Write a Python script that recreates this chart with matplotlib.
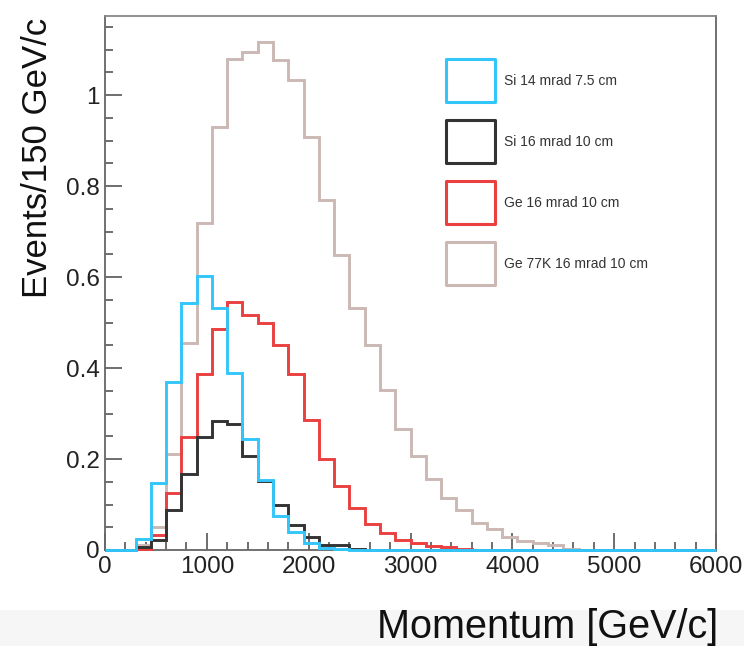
import numpy as np
import matplotlib
matplotlib.use("Agg")
import matplotlib.pyplot as plt
from matplotlib.patches import Rectangle
from matplotlib.ticker import MultipleLocator, FormatStrFormatter

plt.rcParams["font.family"] = ["Liberation Sans", "DejaVu Sans"]

# 40 bins of 150 GeV/c from 0 to 6000
edges = np.arange(0, 6001, 150)

si14 = [0, 0, 0.025, 0.147, 0.370, 0.542, 0.602, 0.531, 0.390, 0.243,
        0.154, 0.075, 0.040, 0.015, 0.005, 0.002, 0, 0, 0, 0,
        0, 0, 0, 0, 0, 0, 0, 0, 0, 0,
        0, 0, 0, 0, 0, 0, 0, 0, 0, 0]
si16 = [0, 0, 0.006, 0.022, 0.088, 0.168, 0.249, 0.284, 0.276, 0.207,
        0.152, 0.099, 0.055, 0.029, 0.012, 0.010, 0.003, 0, 0, 0,
        0, 0, 0, 0, 0, 0, 0, 0, 0, 0,
        0, 0, 0, 0, 0, 0, 0, 0, 0, 0]
ge16 = [0, 0, 0.003, 0.033, 0.125, 0.249, 0.388, 0.485, 0.546, 0.516,
        0.500, 0.451, 0.388, 0.286, 0.199, 0.141, 0.092, 0.057, 0.037, 0.023,
        0.015, 0.009, 0.006, 0.002, 0, 0, 0, 0, 0, 0,
        0, 0, 0, 0, 0, 0, 0, 0, 0, 0]
ge77 = [0, 0, 0.010, 0.051, 0.212, 0.454, 0.718, 0.929, 1.080, 1.094,
        1.117, 1.078, 1.034, 0.908, 0.769, 0.648, 0.533, 0.451, 0.352, 0.266,
        0.206, 0.155, 0.115, 0.088, 0.060, 0.046, 0.029, 0.020, 0.015, 0.010,
        0.003, 0, 0, 0, 0, 0, 0, 0, 0, 0]

labels = ["Si 14 mrad 7.5 cm", "Si 16 mrad 10 cm", "Ge 16 mrad 10 cm", "Ge 77K 16 mrad 10 cm"]
colors = ["#33c6fb", "#333333", "#ea4040", "#cbb8b4"]
series = [si14, si16, ge16, ge77]

W, H = 744, 646
fig = plt.figure(figsize=(W / 100, H / 100), dpi=100)

# light grey strip along the bottom
fig.patches.append(Rectangle((0, 0), 1, 36 / H, transform=fig.transFigure,
                             facecolor="#f6f6f6", edgecolor="none", zorder=0))

ax = fig.add_axes([105 / W, (H - 550) / H, 611 / W, 534 / H])

# draw brown first, blue on top (also over the axis line)
for z, (vals, col) in enumerate(reversed(list(zip(series, colors)))):
    ax.stairs(vals, edges, color=col, linewidth=2.1, baseline=None,
              zorder=3 + z, clip_on=False)

ax.set_xlim(0, 6000)
ax.set_ylim(0, 1.174)
ax.xaxis.set_major_locator(MultipleLocator(1000))
ax.xaxis.set_minor_locator(MultipleLocator(200))
ax.yaxis.set_major_locator(MultipleLocator(0.2))
ax.yaxis.set_minor_locator(MultipleLocator(0.05))
ax.yaxis.set_major_formatter(FormatStrFormatter("%g"))

ax.tick_params(which="both", direction="in", colors="#555555", labelcolor="#222222",
               width=1.2, top=False, right=False)
ax.tick_params(which="major", length=12, labelsize=17.5)
ax.tick_params(which="minor", length=6)
ax.tick_params(axis="x", pad=4)
ax.tick_params(axis="y", pad=4)
for sp in ax.spines.values():
    sp.set_color("#666666")
    sp.set_linewidth(1.3)
ax.spines["top"].set_color("#888888")

fig.text(718 / W, 1 - 627 / H, "Momentum [GeV/c]", ha="right", va="center",
         fontsize=28.5, color="#111111")
fig.text(38 / W, 1 - 158 / H, "Events/150 GeV/c", ha="center", va="center",
         rotation=90, fontsize=25, color="#111111")

# legend: open boxes with labels
for k, (lab, col) in enumerate(zip(labels, colors)):
    top = 59 + 61 * k
    fig.patches.append(Rectangle((446 / W, 1 - (top + 43) / H), 49 / W, 43 / H,
                                 transform=fig.transFigure, facecolor="white",
                                 edgecolor=col, linewidth=2.2, joinstyle="round"))
    fig.text(504 / W, 1 - (top + 22) / H, lab, ha="left", va="center",
             fontsize=10, color="#333333")

fig.savefig("out.png", dpi=100)
